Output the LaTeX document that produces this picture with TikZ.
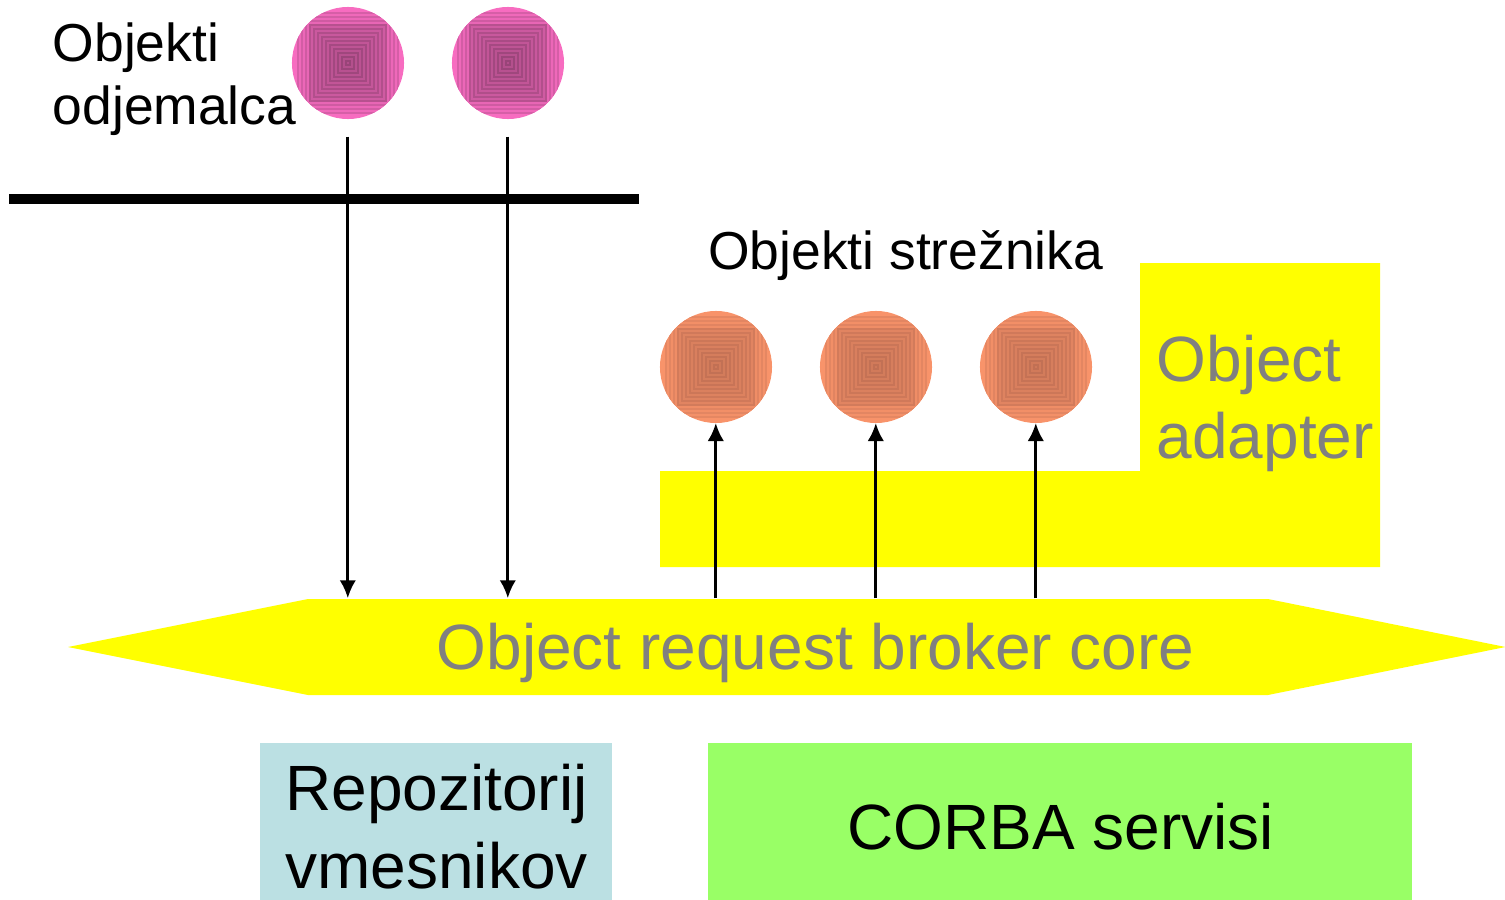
\documentclass[tikz,border=0pt]{standalone}
\usepackage{fontspec}
\usetikzlibrary{arrows.meta}
\setmainfont{Liberation Sans}
\definecolor{brokeryellow}{HTML}{FFFF00}
\definecolor{labelgray}{HTML}{808080}
\definecolor{repoblue}{HTML}{BBE0E3}
\definecolor{servicegreen}{HTML}{99FF66}
\definecolor{clientpink}{HTML}{F76CC0}
\definecolor{clientdark}{HTML}{6E3258}
\definecolor{serverorange}{HTML}{F8936A}
\definecolor{serverdark}{HTML}{A8604A}
\tikzset{
    ball/.style n args={2}{circle, minimum size=1.12cm, inner sep=0pt, fill=#1,
        path picture={
            \foreach \s in {50,46,...,2} {
                \pgfmathtruncatemacro{\p}{min(100,(60-\s)*0.62+(\s<=38 ? 16 : 0))}
                \pgfmathtruncatemacro{\q}{min(100,\p+18)}
                \draw[#2!\q!#1, fill=#2!\p!#1, line width=0.3pt]
                    ([shift={(-\s*0.01cm,-\s*0.01cm)}]path picture bounding box.center)
                    rectangle ([shift={(\s*0.01cm,\s*0.01cm)}]path picture bounding box.center);
            }
        }},
    arr/.style={-{Latex[length=0.18cm,width=0.165cm]}, line width=0.03cm},
    gray label/.style={text=labelgray, inner sep=0pt, anchor=base west},
    black label/.style={text=black, inner sep=0pt, anchor=base west}
}
\begin{document}
\begin{tikzpicture}[x=0.01cm,y=-0.01cm]
    \useasboundingbox (0,0) rectangle (1505,900);
    % Adapter and broker shapes
    \fill[brokeryellow] (1140,263) -- (1380,263) -- (1380,567) -- (660,567) -- (660,471) -- (1140,471) -- cycle;
    \fill[brokeryellow] (68,647) -- (308,599) -- (1268,599) -- (1505.5,647) -- (1268,695) -- (308,695) -- cycle;
    \node[minimum width=9.6cm, minimum height=0.96cm, inner sep=0pt] (core) at (788,647) {};
    \node[gray label, font=\fontsize{18.2pt}{22pt}\selectfont] (corelabel) at (436,669) {Object request broker core};
    \node[gray label, font=\fontsize{18.2pt}{22pt}\selectfont] (adapter1) at (1156,381) {Object};
    \node[gray label, font=\fontsize{18.2pt}{22pt}\selectfont] (adapter2) at (1156,458) {adapter};
    % Client objects
    \node[black label, font=\fontsize{15.2pt}{18pt}\selectfont] (client1) at (52,61) {Objekti};
    \node[black label, font=\fontsize{15.2pt}{18pt}\selectfont] (client2) at (52,124.5) {odjemalca};
    \foreach \name/\x in {ca/348,cb/508} {
        \node[ball={clientpink}{clientdark}] (\name) at (\x,63) {};
        \coordinate (\name top) at (\x-0.2,136.5);
    }
    % Separator bar
    \coordinate (barleft) at (9,199);
    \coordinate (barright) at (639,199);
    \draw[line width=0.1cm] (barleft) -- (barright);
    \foreach \name in {ca,cb} {
        \draw[arr] (\name top) -- (\name top |- core.north);
    }
    % Server objects
    \node[black label, font=\fontsize{15.2pt}{18pt}\selectfont] (server) at (707.5,269) {Objekti strežnika};
    \foreach \name/\x in {sa/716,sb/876,sc/1036} {
        \node[ball={serverorange}{serverdark}] (\name) at (\x,367) {};
        \coordinate (\name foot) at (\x-0.2,423);
        \draw[arr] (\name foot |- core.north) -- (\name foot);
    }
    % Bottom boxes
    \node[fill=repoblue, minimum width=3.52cm, minimum height=1.57cm, inner sep=0pt] (repo) at (436,821.5) {};
    \node[text=black, font=\fontsize{18.2pt}{22.1pt}\selectfont, align=center, inner sep=0pt] (repolabel) at (436.5,826.5) {Repozitorij\\vmesnikov};
    \node[fill=servicegreen, minimum width=7.04cm, minimum height=1.57cm, inner sep=0pt] (corba) at (1060,821.5) {};
    \node[font=\fontsize{18.2pt}{22pt}\selectfont, inner sep=0pt] (corbalabel) at (1060.5,826.5) {CORBA servisi};
\end{tikzpicture}
\end{document}
